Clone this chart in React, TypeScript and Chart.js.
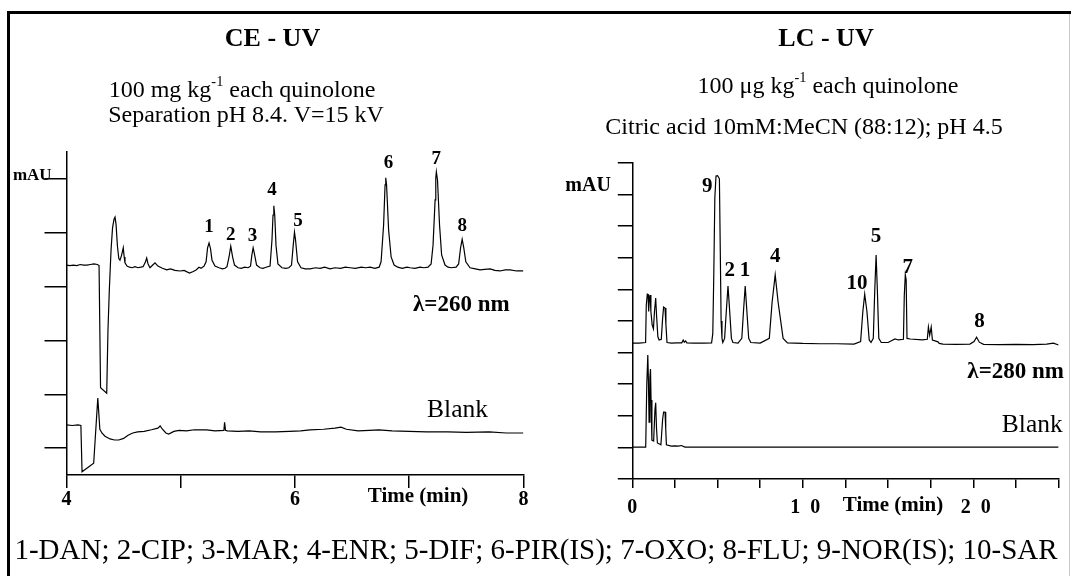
import React, { useEffect, useRef } from "react";
import { Chart, registerables } from "chart.js";

Chart.register(...registerables);

const SERIF = "'Liberation Serif', 'Times New Roman', Times, serif";

// ---------------- CE - UV panel (time in min, absorbance in arbitrary mAU units) ----------------
const ceXTicks = [4, 5, 6, 7, 8];
const ceXTickLabels = ["4", "", "6", "", "8"];
const ceYTicks = [1, 2, 3, 4, 5, 6];

const ceSample: [number, number][] = [
  [4.0, 4.4], [4.03, 4.39], [4.06, 4.4], [4.09, 4.39], [4.12, 4.41], [4.15, 4.4], [4.18, 4.4], [4.21, 4.41],
  [4.24, 4.42], [4.27, 4.41], [4.285, 4.39], [4.298, 2.12], [4.352, 2.02], [4.363, 3.19], [4.375, 3.94],
  [4.39, 4.68], [4.403, 5.09], [4.416, 5.25], [4.425, 5.29], [4.434, 5.15], [4.446, 4.75], [4.458, 4.52],
  [4.468, 4.49], [4.482, 4.58], [4.497, 4.72], [4.505, 4.55], [4.512, 4.44], [4.53, 4.38], [4.552, 4.36],
  [4.574, 4.35], [4.6, 4.37], [4.626, 4.35], [4.65, 4.36], [4.67, 4.37], [4.69, 4.45], [4.702, 4.53],
  [4.714, 4.42], [4.731, 4.35], [4.755, 4.4], [4.775, 4.44], [4.8, 4.38], [4.84, 4.34], [4.877, 4.31],
  [4.91, 4.33], [4.95, 4.3], [4.994, 4.29], [5.03, 4.3], [5.076, 4.25], [5.11, 4.28], [5.134, 4.31],
  [5.16, 4.36], [5.178, 4.34], [5.204, 4.38], [5.222, 4.46], [5.235, 4.72], [5.248, 4.81], [5.261, 4.7],
  [5.274, 4.49], [5.3, 4.38], [5.335, 4.35], [5.365, 4.33], [5.388, 4.34], [5.405, 4.37], [5.423, 4.55],
  [5.438, 4.75], [5.454, 4.55], [5.471, 4.4], [5.502, 4.35], [5.53, 4.34], [5.56, 4.36], [5.59, 4.35],
  [5.611, 4.38], [5.623, 4.59], [5.634, 4.72], [5.645, 4.61], [5.664, 4.4], [5.694, 4.35], [5.72, 4.34],
  [5.747, 4.36], [5.782, 4.38], [5.799, 4.87], [5.808, 5.33], [5.815, 5.5], [5.823, 5.33], [5.834, 4.77],
  [5.851, 4.42], [5.886, 4.35], [5.92, 4.34], [5.947, 4.35], [5.97, 4.4], [5.985, 4.77], [5.996, 5.01],
  [6.005, 4.87], [6.023, 4.46], [6.053, 4.35], [6.09, 4.33], [6.132, 4.33], [6.18, 4.35], [6.22, 4.34],
  [6.26, 4.36], [6.307, 4.33], [6.35, 4.35], [6.4, 4.34], [6.44, 4.36], [6.483, 4.35], [6.53, 4.34],
  [6.58, 4.36], [6.62, 4.35], [6.658, 4.36], [6.7, 4.34], [6.737, 4.36], [6.754, 4.46], [6.776, 5.14],
  [6.789, 5.89], [6.795, 6.02], [6.802, 5.89], [6.82, 5.05], [6.842, 4.55], [6.868, 4.4], [6.9, 4.36],
  [6.94, 4.34], [6.98, 4.36], [7.008, 4.35], [7.05, 4.34], [7.095, 4.36], [7.13, 4.35], [7.165, 4.36],
  [7.192, 4.42], [7.209, 4.77], [7.227, 5.61], [7.233, 6.02], [7.238, 6.13], [7.248, 5.98], [7.266, 5.14],
  [7.284, 4.59], [7.314, 4.4], [7.34, 4.36], [7.367, 4.35], [7.411, 4.36], [7.433, 4.42], [7.45, 4.72],
  [7.464, 4.88], [7.478, 4.72], [7.496, 4.46], [7.533, 4.35], [7.58, 4.33], [7.621, 4.31], [7.66, 4.32],
  [7.709, 4.33], [7.75, 4.3], [7.796, 4.29], [7.84, 4.31], [7.884, 4.31], [7.94, 4.29], [8.0, 4.29],
];

const ceBlank: [number, number][] = [
  [4.0, 1.43], [4.05, 1.42], [4.1, 1.43], [4.126, 1.42], [4.136, 0.56], [4.238, 0.72], [4.274, 1.93],
  [4.292, 1.35], [4.31, 1.28], [4.337, 1.22], [4.381, 1.17], [4.42, 1.15], [4.458, 1.15], [4.5, 1.18],
  [4.539, 1.24], [4.58, 1.28], [4.623, 1.3], [4.68, 1.31], [4.744, 1.34], [4.8, 1.37], [4.82, 1.41],
  [4.84, 1.35], [4.87, 1.28], [4.895, 1.26], [4.94, 1.31], [4.985, 1.33], [5.05, 1.32], [5.12, 1.34],
  [5.227, 1.34], [5.3, 1.32], [5.378, 1.33], [5.384, 1.48], [5.392, 1.33], [5.408, 1.32], [5.5, 1.31],
  [5.6, 1.32], [5.7, 1.3], [5.83, 1.3], [5.95, 1.31], [6.05, 1.32], [6.132, 1.34], [6.25, 1.35],
  [6.35, 1.37], [6.403, 1.39], [6.45, 1.35], [6.553, 1.32], [6.65, 1.33], [6.735, 1.34], [6.85, 1.32],
  [7.0, 1.31], [7.15, 1.3], [7.338, 1.3], [7.5, 1.29], [7.7, 1.3], [7.85, 1.28], [8.0, 1.28],
];

const cePeakNames = ["1", "2", "3", "4", "5", "6", "7", "8"];
const cePeakAnchors: [number, number][] = [
  [5.248, 5.11], [5.438, 4.96], [5.628, 4.94], [5.799, 5.79], [6.026, 5.22], [6.819, 6.3], [7.238, 6.37], [7.464, 5.13],
];

// ---------------- LC - UV panel ----------------
const lcXTicks = [0, 2.5, 5, 7.5, 10, 12.5, 15, 17.5, 20, 22.5, 25];
const lcXTickLabels = ["0", "", "", "", " 1  0", "", "", "", " 2  0", "", ""];
const lcYTicks = [0, 1, 2, 3, 4, 5, 6, 7, 8, 9, 10];

const lcSample: [number, number][] = [
  [0, 4.3], [0.4, 4.3], [0.78, 4.32], [0.82, 5.5], [0.88, 5.85], [0.927, 5.84], [0.96, 5.3], [0.99, 5.6],
  [1.05, 5.82], [1.09, 5.3], [1.167, 4.87], [1.24, 4.75], [1.3, 5.3], [1.372, 5.73], [1.42, 5.2],
  [1.5, 4.5], [1.572, 4.4], [1.7, 4.42], [1.78, 5.1], [1.836, 5.44], [1.918, 5.41], [1.97, 4.9],
  [2.035, 4.32], [2.3, 4.3], [2.6, 4.31], [2.9, 4.31], [2.985, 4.4], [3.05, 4.33], [3.126, 4.37],
  [3.2, 4.31], [3.6, 4.3], [4.2, 4.3], [4.65, 4.31], [4.72, 4.6], [4.78, 6.5], [4.84, 8.9], [4.909, 9.59],
  [5.0, 9.6], [5.06, 9.55], [5.108, 9.5], [5.16, 7.2], [5.208, 5.0], [5.26, 4.45], [5.307, 4.32],
  [5.413, 4.45], [5.5, 5.2], [5.612, 6.11], [5.7, 5.4], [5.812, 4.45], [5.9, 4.32], [6.2, 4.3],
  [6.422, 4.45], [6.52, 5.3], [6.621, 6.11], [6.72, 5.3], [6.826, 4.45], [6.95, 4.32], [7.5, 4.3],
  [8.034, 4.45], [8.2, 5.6], [8.38, 6.46], [8.55, 5.6], [8.844, 4.45], [9.1, 4.31], [10, 4.29],
  [11, 4.28], [12, 4.28], [13.0, 4.27], [13.389, 4.35], [13.52, 5.3], [13.629, 5.85], [13.76, 5.3],
  [13.893, 4.4], [14.0, 4.32], [14.133, 4.45], [14.22, 6.0], [14.298, 7.09], [14.37, 6.0], [14.456, 4.45],
  [14.6, 4.32], [15.0, 4.32], [15.406, 4.43], [15.6, 4.4], [15.9, 4.42], [15.95, 5.8], [16.01, 6.46],
  [16.06, 6.3], [16.11, 4.45], [16.3, 4.43], [17.0, 4.4], [17.3, 4.42], [17.365, 4.81], [17.44, 4.55],
  [17.529, 4.81], [17.6, 4.4], [17.928, 4.34], [18.0, 4.29], [18.221, 4.27], [19.0, 4.26], [19.8, 4.27],
  [20.039, 4.35], [20.191, 4.49], [20.35, 4.33], [20.6, 4.26], [21.5, 4.25], [22.5, 4.26], [23.5, 4.25],
  [24.3, 4.27], [24.695, 4.3], [25.0, 4.24],
];

const lcBlank: [number, number][] = [
  [0, 1.01], [0.5, 1.01], [0.786, 1.01], [0.85, 3.0], [0.909, 3.92], [0.95, 3.0], [0.985, 1.8], [1.03, 3.2],
  [1.067, 3.48], [1.1, 2.5], [1.149, 1.23], [1.25, 1.2], [1.33, 2.2], [1.372, 2.41], [1.42, 1.6],
  [1.472, 1.14], [1.677, 1.08], [1.78, 1.9], [1.836, 2.12], [1.918, 2.12], [1.96, 1.6], [2.0, 1.08],
  [2.281, 1.04], [2.5, 1.05], [2.7, 1.04], [2.885, 1.06], [3.09, 1.01], [6, 1.01], [12, 1.01],
  [18, 1.01], [25, 1.01],
];

const lcPeakNames = ["9", "2", "1", "4", "10", "5", "7", "8"];
const lcPeakAnchors: [number, number][] = [
  [4.398, 9.24], [5.712, 6.61], [6.603, 6.61], [8.38, 7.03], [13.183, 6.2], [14.297, 7.66], [16.151, 6.68], [20.356, 4.97],
];

type Note = { text: string; x: number; y: number; size: number; bold?: boolean; align?: CanvasTextAlign };

function notesPlugin(notes: Note[]) {
  return {
    id: "notes",
    afterDraw(chart: any) {
      const { ctx } = chart;
      const xs = chart.scales.x;
      const ys = chart.scales.y;
      ctx.save();
      ctx.fillStyle = "#000";
      ctx.textBaseline = "middle";
      for (const n of notes) {
        ctx.font = `${n.bold ? "bold " : ""}${n.size}px ${SERIF}`;
        ctx.textAlign = n.align ?? "center";
        ctx.fillText(n.text, xs.getPixelForValue(n.x), ys.getPixelForValue(n.y));
      }
      ctx.restore();
    },
  };
}

type Panel = {
  series: [number, number][][];
  xMin: number; xMax: number; yMin: number; yMax: number;
  xTicks: number[]; xTickLabels: string[]; yTicks: number[];
  axisLeft: number; padRight: number; padTop: number; padBottom: number;
  xTickLen: number; yTickLen: number; xLabelPad: number;
  notes: Note[];
};

function buildConfig(p: Panel): any {
  return {
    type: "line",
    data: {
      datasets: p.series.map((s) => ({
        data: s.map(([x, y]) => ({ x, y })),
        borderColor: "#000",
        borderWidth: 1.2,
        pointRadius: 0,
        tension: 0,
        fill: false,
      })),
    },
    options: {
      animation: false,
      responsive: false,
      devicePixelRatio: 1,
      events: [],
      layout: { padding: { left: 0, right: p.padRight, top: p.padTop, bottom: p.padBottom } },
      plugins: { legend: { display: false }, tooltip: { enabled: false } },
      scales: {
        x: {
          type: "linear",
          min: p.xMin,
          max: p.xMax,
          afterBuildTicks: (s: any) => { s.ticks = p.xTicks.map((v) => ({ value: v })); },
          afterFit: (s: any) => { s.height = 40; },
          ticks: {
            autoSkip: false, maxRotation: 0, minRotation: 0, padding: p.xLabelPad, color: "#000",
            font: { family: SERIF, size: 20, weight: "bold" },
            callback: (_v: any, i: number) => p.xTickLabels[i],
          },
          grid: { drawOnChartArea: false, drawTicks: true, tickLength: p.xTickLen, color: "#000", lineWidth: 1.5 },
          border: { display: true, color: "#000", width: 1.5 },
        },
        y: {
          type: "linear",
          min: p.yMin,
          max: p.yMax,
          afterBuildTicks: (s: any) => { s.ticks = p.yTicks.map((v) => ({ value: v })); },
          afterFit: (s: any) => { s.width = p.axisLeft; },
          ticks: { display: false },
          grid: { drawOnChartArea: false, drawTicks: true, tickLength: p.yTickLen, color: "#000", lineWidth: 1.5 },
          border: { display: true, color: "#000", width: 1.5 },
        },
      },
    },
    plugins: [notesPlugin(p.notes)],
  };
}

const cePanel: Panel = {
  series: [ceSample, ceBlank],
  xMin: 4, xMax: 8, yMin: 0.5, yMax: 6.5,
  xTicks: ceXTicks, xTickLabels: ceXTickLabels, yTicks: ceYTicks,
  axisLeft: 66.5, padRight: 16.6, padTop: 152, padBottom: 576 - 475 - 40,
  xTickLen: 13, yTickLen: 22, xLabelPad: 0,
  notes: [
    ...cePeakNames.map((t, i) => ({ text: t, x: cePeakAnchors[i][0], y: cePeakAnchors[i][1], size: 19, bold: true })),
    { text: "λ=260 nm", x: 7.034, y: 3.66, size: 23, bold: true, align: "left" as CanvasTextAlign },
    { text: "Blank", x: 7.157, y: 1.71, size: 25.5, align: "left" as CanvasTextAlign },
    { text: "mAU", x: 3.87, y: 6.07, size: 17, bold: true, align: "right" as CanvasTextAlign },
    { text: "Time (min)", x: 7.078, y: 0.091, size: 21, bold: true },
  ],
};

const lcPanel: Panel = {
  series: [lcSample, lcBlank],
  xMin: 0, xMax: 25, yMin: 0, yMax: 10,
  xTicks: lcXTicks, xTickLabels: lcXTickLabels, yTicks: lcYTicks,
  axisLeft: 92.3, padRight: 12.4, padTop: 163, padBottom: 576 - 479 - 40,
  xTickLen: 9, yTickLen: 14.5, xLabelPad: 8,
  notes: [
    ...lcPeakNames.map((t, i) => ({ text: t, x: lcPeakAnchors[i][0], y: lcPeakAnchors[i][1], size: 21, bold: true })),
    { text: "λ=280 nm", x: 19.65, y: 3.39, size: 23, bold: true, align: "left" as CanvasTextAlign },
    { text: "Blank", x: 21.67, y: 1.71, size: 25.5, align: "left" as CanvasTextAlign },
    { text: "mAU", x: -1.255, y: 9.27, size: 20, bold: true, align: "right" as CanvasTextAlign },
    { text: "Time (min)", x: 15.29, y: -0.854, size: 21, bold: true },
  ],
};

function Label(props: { x: number; y: number; size: number; bold?: boolean; children: React.ReactNode }) {
  return (
    <div
      style={{
        position: "absolute",
        left: props.x,
        top: props.y,
        transform: "translate(-50%, -50%)",
        fontFamily: SERIF,
        fontSize: props.size,
        fontWeight: props.bold ? "bold" : "normal",
        lineHeight: 1,
        whiteSpace: "nowrap",
        color: "#000",
      }}
    >
      {props.children}
    </div>
  );
}

function Sup(props: { children: React.ReactNode }) {
  return <span style={{ fontSize: "0.6em", position: "relative", top: "-0.75em" }}>{props.children}</span>;
}

export default function App() {
  const leftRef = useRef<HTMLCanvasElement | null>(null);
  const rightRef = useRef<HTMLCanvasElement | null>(null);

  useEffect(() => {
    const c1 = new Chart(leftRef.current as HTMLCanvasElement, buildConfig(cePanel));
    const c2 = new Chart(rightRef.current as HTMLCanvasElement, buildConfig(lcPanel));
    return () => {
      c1.destroy();
      c2.destroy();
    };
  }, []);

  return (
    <div style={{ position: "fixed", left: 0, top: 0, width: 1071, height: 576, background: "#fff", overflow: "hidden" }}>
      <div
        style={{
          position: "absolute", left: 7, top: 11, width: 1080, height: 600,
          borderTop: "3px solid #000", borderLeft: "3px solid #000", boxSizing: "border-box",
        }}
      />
      <div style={{ position: "absolute", left: 1069, top: 14, width: 1, height: 562, background: "#c8c8c8" }} />

      <canvas ref={leftRef} width={540} height={576} style={{ position: "absolute", left: 0, top: 0, width: 540, height: 576 }} />
      <canvas ref={rightRef} width={531} height={576} style={{ position: "absolute", left: 540, top: 0, width: 531, height: 576 }} />

      <Label x={272.5} y={38} size={26} bold>CE - UV</Label>
      <Label x={242} y={89} size={24}>100 mg kg<Sup>-1</Sup> each quinolone</Label>
      <Label x={246} y={114} size={24}>Separation pH 8.4. V=15 kV</Label>

      <Label x={826} y={38} size={26} bold>LC - UV</Label>
      <Label x={828} y={85} size={24}>100 μg kg<Sup>-1</Sup> each quinolone</Label>
      <Label x={804} y={126} size={24}>Citric acid 10mM:MeCN (88:12); pH 4.5</Label>

      <Label x={536} y={549} size={29}>1-DAN; 2-CIP; 3-MAR; 4-ENR; 5-DIF; 6-PIR(IS); 7-OXO; 8-FLU; 9-NOR(IS); 10-SAR</Label>
    </div>
  );
}
